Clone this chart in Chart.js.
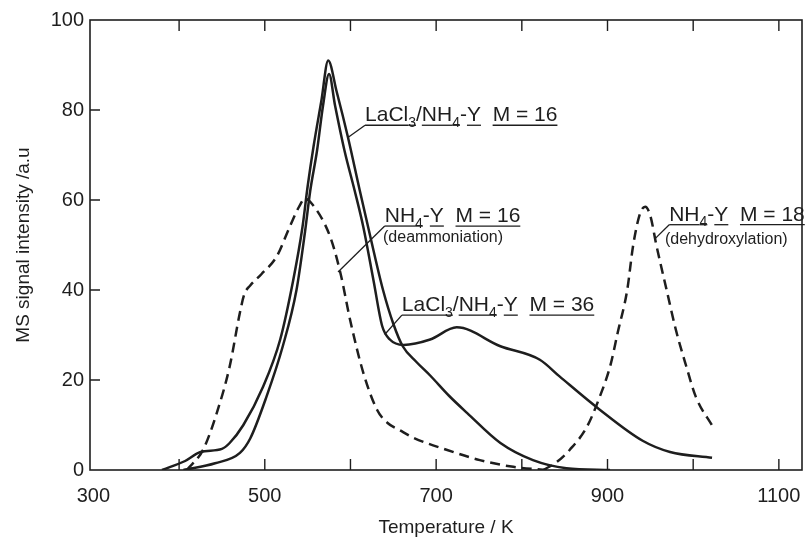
<!DOCTYPE html>
<html>
<head>
<meta charset="utf-8">
<script src="https://cdn.jsdelivr.net/npm/chart.js@4"></script>
<style>
    html, body { margin: 0; padding: 0; background: #ffffff; }
</style>
</head>
<body>
<canvas id="msChart" width="806" height="539"></canvas>
<script>
// Temperatures (K) and MS signal
const tLa16 = [380, 407, 425, 450, 459, 475, 498, 518, 533, 544, 550, 557, 566, 574, 584, 597, 611, 623, 638, 650, 661, 677, 693, 715, 736, 775, 813, 852, 903];
const vLa16 = [0, 2, 4, 4.7, 6, 10, 18.5, 29, 42, 54, 63, 72, 82, 91, 84, 74, 62, 52, 40, 32.5, 27.5, 24, 21, 16.5, 12.7, 6, 2.2, 0.4, 0];

const tLa36 = [405, 442, 471, 483, 502, 521, 537, 547, 553, 561, 568, 575, 582, 593, 605, 615, 627, 637, 646, 662, 693, 724, 775, 821, 844, 891, 941, 973, 1022];
const vLa36 = [0, 1.5, 3.8, 7, 16.3, 27.5, 40, 53, 62, 71, 81, 88, 81, 71, 62, 54, 42, 32, 29, 27.8, 29, 31.7, 27.5, 24.5, 20.8, 13.4, 6.5, 4, 2.7];

const tDeam = [409, 428, 444, 459, 471, 476, 483, 496, 514, 529, 540, 547, 553, 576, 588, 600, 615, 631, 643, 658, 673, 712, 751, 790, 829];
const vDeam = [0, 4.5, 12.7, 23, 35, 39, 41, 43.5, 47.5, 54, 58.5, 60.3, 59.6, 52, 44, 33, 21.6, 13.4, 10.5, 8.8, 7.2, 4.5, 2.2, 0.7, 0];

const tDehy = [825, 841, 856, 876, 891, 903, 912, 923, 930, 938, 944, 950, 957, 969, 980, 992, 1003, 1023];
const vDehy = [0, 1.8, 4.5, 9.6, 16.3, 23, 30.6, 40, 50, 57, 58.5, 56.5, 50, 40, 31, 23, 16.3, 9.6];

const xTickLabels = [300, 500, 700, 900, 1100];
const xTickMarks = [400, 500, 600, 700, 800, 900, 1000, 1100];
const yTickMarks = [20, 40, 60, 80];

const FONT = '"Liberation Sans", Arial, Helvetica, sans-serif';
const INK = '#1e1e1e';

function pts(ts, vs) {
    return ts.map((t, i) => ({ x: t, y: vs[i] }));
}

// curve labels: text anchor and leader target in data units
const curveLabels = [
    {
        at: [617, 77.5], tip: [597, 73.9],
        runs: [['LaCl', 0, 1], ['3', 1, 1], ['/', 0, 0], ['NH', 0, 1], ['4', 1, 1], ['-', 0, 0], ['Y', 0, 1], ['  ', 0, 0], ['M = 16', 0, 1]]
    },
    {
        at: [640, 55.1], tip: [585.5, 44], note: '(deammoniation)', noteAt: [638, 50.6],
        runs: [['NH', 0, 1], ['4', 1, 1], ['-', 0, 0], ['Y', 0, 1], ['  ', 0, 0], ['M = 16', 0, 1]]
    },
    {
        at: [660, 35.3], tip: [640, 30.1],
        runs: [['LaCl', 0, 1], ['3', 1, 1], ['/', 0, 0], ['NH', 0, 1], ['4', 1, 1], ['-', 0, 0], ['Y', 0, 1], ['  ', 0, 0], ['M = 36', 0, 1]]
    },
    {
        at: [972, 55.4], tip: [955, 51.3], note: '(dehydroxylation)', noteAt: [967, 50.2],
        runs: [['NH', 0, 1], ['4', 1, 1], ['-', 0, 0], ['Y', 0, 1], ['  ', 0, 0], ['M = 18', 0, 1]]
    }
];

function drawRich(ctx, x, y, runs, size) {
    let cx = x;
    runs.forEach(([txt, sub, under]) => {
        const fs = sub ? Math.round(size * 0.68) : size;
        ctx.font = fs + 'px ' + FONT;
        const w = ctx.measureText(txt).width;
        ctx.fillText(txt, cx, sub ? y + size * 0.26 : y);
        if (under) {
            ctx.beginPath();
            ctx.moveTo(cx, y + 4);
            ctx.lineTo(cx + w, y + 4);
            ctx.stroke();
        }
        cx += w;
    });
}

const frameAndLabels = {
    id: 'frameAndLabels',
    afterDatasetsDraw(chart) {
        const ctx = chart.ctx;
        const a = chart.chartArea;
        const xs = chart.scales.x, ys = chart.scales.y;
        ctx.save();
        ctx.strokeStyle = INK;
        ctx.fillStyle = INK;

        // box
        ctx.lineWidth = 1.6;
        ctx.strokeRect(a.left, a.top, a.right - a.left, a.bottom - a.top);

        // inward ticks
        ctx.lineWidth = 1.4;
        ctx.beginPath();
        xTickMarks.forEach(v => {
            const px = xs.getPixelForValue(v);
            ctx.moveTo(px, a.bottom); ctx.lineTo(px, a.bottom - 11);
            ctx.moveTo(px, a.top); ctx.lineTo(px, a.top + 11);
        });
        yTickMarks.forEach(v => {
            const py = ys.getPixelForValue(v);
            ctx.moveTo(a.left, py); ctx.lineTo(a.left + 10, py);
        });
        ctx.stroke();

        // curve labels
        ctx.textAlign = 'left';
        ctx.textBaseline = 'alphabetic';
        curveLabels.forEach(l => {
            const x = xs.getPixelForValue(l.at[0]);
            const y = ys.getPixelForValue(l.at[1]);
            ctx.lineWidth = 1.3;
            drawRich(ctx, x, y, l.runs, 21);
            ctx.beginPath();
            ctx.moveTo(x, y + 4);
            ctx.lineTo(xs.getPixelForValue(l.tip[0]), ys.getPixelForValue(l.tip[1]));
            ctx.stroke();
            if (l.note) {
                ctx.font = '16px ' + FONT;
                ctx.fillText(l.note, xs.getPixelForValue(l.noteAt[0]), ys.getPixelForValue(l.noteAt[1]));
            }
        });
        ctx.restore();
    }
};

const solid = { borderColor: INK, borderWidth: 2.5, pointRadius: 0, fill: false, cubicInterpolationMode: 'monotone' };
const dashed = Object.assign({}, solid, { borderDash: [10, 6] });

new Chart(document.getElementById('msChart').getContext('2d'), {
    type: 'line',
    data: {
        datasets: [
            Object.assign({ label: 'LaCl3/NH4-Y M = 16', data: pts(tLa16, vLa16) }, solid),
            Object.assign({ label: 'LaCl3/NH4-Y M = 36', data: pts(tLa36, vLa36) }, solid),
            Object.assign({ label: 'NH4-Y M = 16 (deammoniation)', data: pts(tDeam, vDeam) }, dashed),
            Object.assign({ label: 'NH4-Y M = 18 (dehydroxylation)', data: pts(tDehy, vDehy) }, dashed)
        ]
    },
    options: {
        responsive: false,
        animation: false,
        layout: { padding: { top: 20, right: 4, left: 0, bottom: 0 } },
        plugins: {
            legend: { display: false },
            tooltip: { enabled: false }
        },
        scales: {
            x: {
                type: 'linear',
                min: 296,
                max: 1127,
                grid: { display: false, drawTicks: false },
                border: { display: false },
                afterBuildTicks: scale => { scale.ticks = xTickLabels.map(v => ({ value: v })); },
                afterFit: scale => {
                    scale.height = 69;
                    scale.paddingLeft = 0;
                    scale.paddingRight = 0;
                },
                ticks: {
                    color: INK, padding: 14, maxRotation: 0,
                    font: { family: FONT, size: 20 },
                    callback: v => String(v)
                },
                title: {
                    display: true,
                    text: 'Temperature / K',
                    color: INK,
                    padding: 0,
                    font: { family: FONT, size: 19 }
                }
            },
            y: {
                min: 0,
                max: 100,
                grid: { display: false, drawTicks: false },
                border: { display: false },
                afterFit: scale => {
                    scale.width = 90;
                    scale.paddingTop = 0;
                    scale.paddingBottom = 0;
                },
                ticks: { stepSize: 20, color: INK, padding: 6, font: { family: FONT, size: 20 } },
                title: {
                    display: true,
                    text: 'MS signal intensity /a.u',
                    color: INK,
                    padding: 12,
                    font: { family: FONT, size: 19 }
                }
            }
        }
    },
    plugins: [frameAndLabels]
});
</script>
</body>
</html>
